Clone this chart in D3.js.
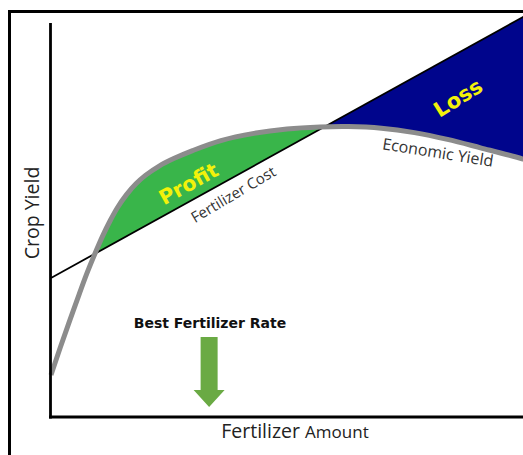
<!DOCTYPE html>
<html>
<head>
<meta charset="utf-8">
<script src="https://cdn.jsdelivr.net/npm/d3@7"></script>
<style>
  html, body { margin: 0; padding: 0; background: #fff; }
  svg { display: block; }
</style>
</head>
<body>
<svg id="chart" width="523" height="455"></svg>
<script>
// ---- data (abstract units, 0..100) ----
const fertilizerAmount = [0, 2, 4, 6, 7.5, 9.3, 11, 12.5, 14, 16, 18, 20, 23, 26, 30, 36, 43, 50, 57, 63, 70, 77, 84, 91, 100, 104];
const economicYield    = [10.5, 17.5, 24.2, 30.8, 35.6, 40.8, 45.4, 49, 52.2, 55.6, 58.3, 60.4, 62.8, 64.6, 66.6, 69.1, 70.9, 72, 72.5, 72.6, 72.2, 71.1, 69.4, 67.3, 64.5, 63];
const costAmount = [0, 104];
const fertilizerCost = [34.75, 102.6];
const bestRate = [33.5];
const axisLabels = ["Crop Yield", "Fertilizer", "Amount"];
const regionLabels = ["Profit", "Loss"];
const curveLabels = ["Fertilizer Cost", "Economic Yield", "Best Fertilizer Rate"];

const W = 523, H = 455;
const svg = d3.select("#chart");

const x = d3.scaleLinear().domain([0, 100]).range([51, 523]);
const y = d3.scaleLinear().domain([0, 100]).range([417, 17]);

const yieldData = fertilizerAmount.map((v, i) => ({ x: v, y: economicYield[i] }));
const costData = costAmount.map((v, i) => ({ x: v, y: fertilizerCost[i] }));
const costAt = v => fertilizerCost[0] + (fertilizerCost[1] - fertilizerCost[0]) * (v - costAmount[0]) / (costAmount[1] - costAmount[0]);

// find where yield drops below the cost line (end of profit)
let crossX = 60;
for (let i = 1; i < yieldData.length; i++) {
  const a = yieldData[i - 1], b = yieldData[i];
  const da = a.y - costAt(a.x), db = b.y - costAt(b.x);
  if (da > 0 && db <= 0) { crossX = a.x + (b.x - a.x) * da / (da - db); }
}

const curve = d3.curveCatmullRom.alpha(0.5);
const defs = svg.append("defs");

// area above the cost line
defs.append("clipPath").attr("id", "aboveCost").append("path")
  .attr("d", d3.area().x(d => x(d.x)).y0(0).y1(d => y(d.y))(costData));
// area below the cost line, to the right of the crossing
defs.append("clipPath").attr("id", "belowCost").append("path")
  .attr("d", d3.area().x(d => x(Math.max(d.x, crossX - 0.5))).y0(H).y1(d => y(costAt(Math.max(d.x, crossX - 0.5))))(costData));

// profit: under yield curve, above cost
svg.append("path")
  .attr("d", d3.area().curve(curve).x(d => x(d.x)).y0(y(0)).y1(d => y(d.y))(yieldData))
  .attr("fill", "#39b54a")
  .attr("clip-path", "url(#aboveCost)");

// loss: above yield curve, below cost
svg.append("path")
  .attr("d", d3.area().curve(curve).x(d => x(d.x)).y0(0).y1(d => y(d.y))(yieldData))
  .attr("fill", "#00058c")
  .attr("clip-path", "url(#belowCost)");

// cost line
svg.append("path")
  .attr("d", d3.line().x(d => x(d.x)).y(d => y(d.y))(costData))
  .attr("fill", "none").attr("stroke", "#000").attr("stroke-width", 1.8);

// yield curve
svg.append("path")
  .attr("d", d3.line().curve(curve).x(d => x(d.x)).y(d => y(d.y))(yieldData))
  .attr("fill", "none").attr("stroke", "#8c8c8c").attr("stroke-width", 5);

// axes
svg.append("line").attr("x1", x(0) - 0.5).attr("x2", x(0) - 0.5).attr("y1", y(98.5)).attr("y2", y(0) + 1.5)
  .attr("stroke", "#000").attr("stroke-width", 2.8);
svg.append("line").attr("x1", x(0) - 2).attr("x2", W + 5).attr("y1", y(0)).attr("y2", y(0))
  .attr("stroke", "#000").attr("stroke-width", 3);

// frame
svg.append("rect").attr("x", 9.5).attr("y", 11.5).attr("width", W + 20).attr("height", H + 20)
  .attr("fill", "none").attr("stroke", "#000").attr("stroke-width", 3);

// region labels
svg.append("text").text(regionLabels[0])
  .attr("transform", "translate(192,190) rotate(-29)")
  .attr("text-anchor", "middle")
  .attr("font-family", "DejaVu Sans").attr("font-weight", "bold").attr("font-size", 20.5)
  .attr("fill", "#f2f20a");
svg.append("text").text(regionLabels[1])
  .attr("transform", "translate(462,104) rotate(-32)")
  .attr("text-anchor", "middle")
  .attr("font-family", "DejaVu Sans").attr("font-weight", "bold").attr("font-size", 21)
  .attr("fill", "#f2f20a");

// curve labels
svg.append("text").text(curveLabels[0])
  .attr("transform", "translate(236,199) rotate(-30.5)")
  .attr("text-anchor", "middle")
  .attr("font-family", "Open Sans").attr("font-size", 15)
  .attr("fill", "#333");
svg.append("text").text(curveLabels[1])
  .attr("transform", "translate(437,158) rotate(9)")
  .attr("text-anchor", "middle")
  .attr("font-family", "Open Sans").attr("font-size", 16)
  .attr("fill", "#333");
svg.append("text").text(curveLabels[2])
  .attr("x", 210).attr("y", 328)
  .attr("text-anchor", "middle")
  .attr("font-family", "DejaVu Sans").attr("font-weight", "bold").attr("font-size", 14)
  .attr("fill", "#111");

// arrow at best rate
const ax = x(bestRate[0]);
const arrow = d3.path();
arrow.moveTo(ax - 8.5, 337);
arrow.lineTo(ax + 8.5, 337);
arrow.lineTo(ax + 8.5, 390);
arrow.lineTo(ax + 15.5, 390);
arrow.lineTo(ax, 407);
arrow.lineTo(ax - 15.5, 390);
arrow.lineTo(ax - 8.5, 390);
arrow.closePath();
svg.append("path").attr("d", arrow.toString()).attr("fill", "#6aaa44");

// axis titles
svg.append("text").text(axisLabels[0])
  .attr("transform", "translate(39,213) rotate(-90)")
  .attr("text-anchor", "middle")
  .attr("font-family", "Open Sans").attr("font-size", 19.5)
  .attr("fill", "#222");
const xt = svg.append("text")
  .attr("x", 295).attr("y", 438)
  .attr("text-anchor", "middle")
  .attr("font-family", "Open Sans")
  .attr("fill", "#222");
xt.append("tspan").attr("font-size", 19.5).text(axisLabels[1] + " ");
xt.append("tspan").attr("font-size", 17).text(axisLabels[2]);
</script>
</body>
</html>
